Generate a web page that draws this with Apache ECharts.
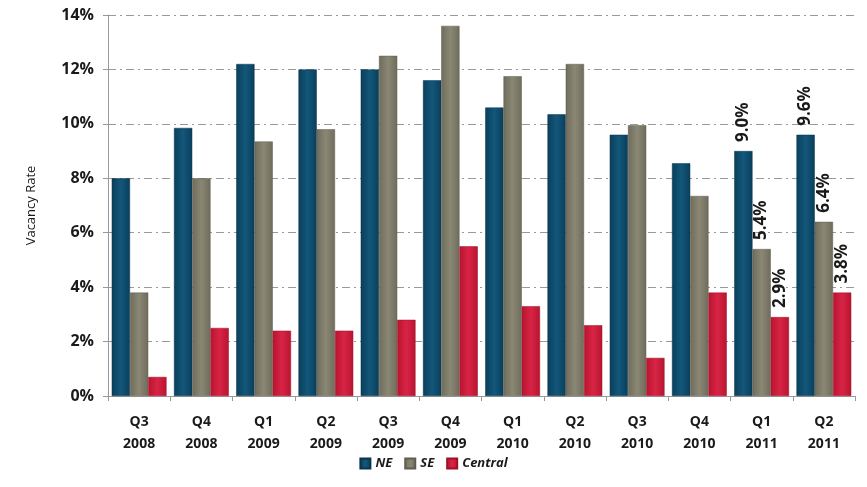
<!DOCTYPE html>
<html>
<head>
  <meta charset="UTF-8">
  <title>vacancy</title>
  <style>
    html, body { margin: 0; padding: 0; background: #fff; }
    #main { width: 867px; height: 487px; }
  </style>
  <script src="https://cdn.jsdelivr.net/npm/echarts@6/dist/echarts.min.js"></script>
</head>
<body>
<div id="main"></div>
<script type="text/javascript">
  const categories = ['Q3\n2008', 'Q4\n2008', 'Q1\n2009', 'Q2\n2009', 'Q3\n2009', 'Q4\n2009',
    'Q1\n2010', 'Q2\n2010', 'Q3\n2010', 'Q4\n2010', 'Q1\n2011', 'Q2\n2011'];
  const neVals = [8.0, 9.85, 12.2, 12.0, 12.0, 11.6, 10.6, 10.35, 9.6, 8.55, 9.0, 9.6];
  const seVals = [3.8, 8.0, 9.35, 9.8, 12.5, 13.6, 11.75, 12.2, 9.95, 7.35, 5.4, 6.4];
  const centralVals = [0.7, 2.5, 2.4, 2.4, 2.8, 5.5, 3.3, 2.6, 1.4, 3.8, 2.9, 3.8];
  const labelled = [10, 11]; // only the last two quarters carry value labels

  const chart = echarts.init(document.getElementById('main'));
  const font = '"Open Sans", "DejaVu Sans", sans-serif';

  function grad(light, dark) {
    return new echarts.graphic.LinearGradient(0, 0, 1, 0, [
      { offset: 0, color: dark },
      { offset: 0.5, color: light },
      { offset: 1, color: dark }
    ]);
  }

  function makeData(vals) {
    return vals.map(function (v, i) {
      if (labelled.indexOf(i) < 0) return v;
      return {
        value: v,
        label: {
          show: true,
          position: 'top',
          rotate: 90,
          align: 'left',
          verticalAlign: 'middle',
          distance: 9,
          formatter: function (p) { return p.value.toFixed(1) + '%'; },
          fontFamily: font,
          fontWeight: 'bold',
          fontSize: 17,
          color: '#1a1a1a'
        }
      };
    });
  }

  const option = {
    animation: false,
    textStyle: { fontFamily: font },
    grid: { left: 108, right: 12, top: 15, bottom: 91 },
    legend: {
      bottom: 12,
      left: 'center',
      itemWidth: 10,
      itemHeight: 10,
      itemGap: 12,
      textStyle: { fontStyle: 'italic', fontWeight: 'bold', fontSize: 13, color: '#1a1a1a', fontFamily: font },
      data: [
        { name: 'NE', icon: 'rect' },
        { name: 'SE', icon: 'rect' },
        { name: 'Central', icon: 'rect' }
      ]
    },
    xAxis: {
      type: 'category',
      data: categories,
      axisLine: { lineStyle: { color: '#999' } },
      axisTick: { show: true, length: 5, lineStyle: { color: '#999' } },
      axisLabel: {
        fontWeight: 'bold', fontSize: 14, color: '#1a1a1a', lineHeight: 22, margin: 15
      }
    },
    yAxis: {
      type: 'value',
      min: 0,
      max: 14,
      interval: 2,
      name: 'Vacancy Rate',
      nameLocation: 'middle',
      nameRotate: 90,
      nameGap: 70,
      nameTextStyle: { fontSize: 13, color: '#1a1a1a', padding: [0, 0, 0, 0] },
      axisLine: { show: true, lineStyle: { color: '#999' } },
      axisTick: { show: true, length: 5, lineStyle: { color: '#999' } },
      axisLabel: {
        formatter: '{value}%', fontWeight: 'bold', fontSize: 16, color: '#1a1a1a', margin: 14
      },
      splitLine: { lineStyle: { color: '#999', type: [8, 4, 2, 4], width: 1 } }
    },
    series: [
      {
        name: 'NE', type: 'bar', data: makeData(neVals),
        barGap: '0%', barCategoryGap: '12%',
        itemStyle: { color: grad('#13577a', '#0a3f5c'), borderColor: '#08344c', borderWidth: 0.5 }
      },
      {
        name: 'SE', type: 'bar', data: makeData(seVals),
        itemStyle: { color: grad('#8a8774', '#6f6c5c'), borderColor: '#5f5d4f', borderWidth: 0.5 }
      },
      {
        name: 'Central', type: 'bar', data: makeData(centralVals),
        itemStyle: { color: grad('#d82446', '#b8142f'), borderColor: '#9e1028', borderWidth: 0.5 }
      }
    ],
    color: ['#0e4a6a', '#7c7a68', '#c81a3a']
  };

  chart.setOption(option);
</script>
</body>
</html>
